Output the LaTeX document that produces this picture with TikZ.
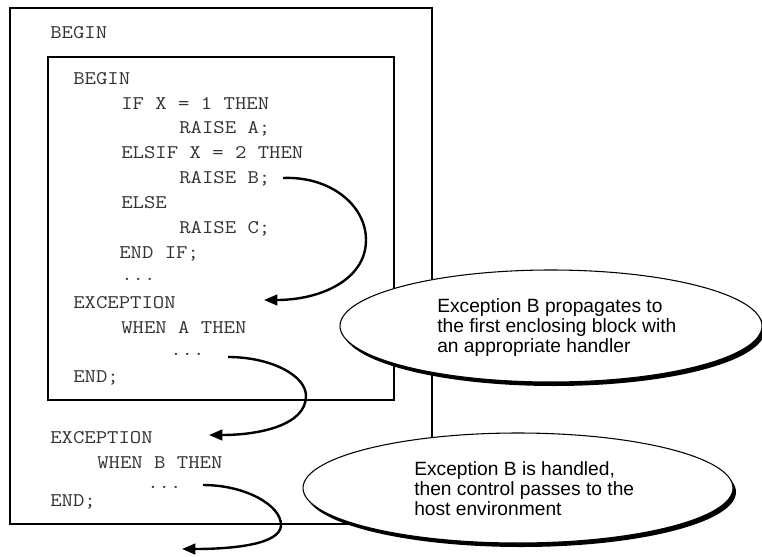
\documentclass[tikz,border=0pt]{standalone}
\usepackage{fontspec}
\setmainfont{Liberation Sans}
\newfontfamily\codefont[FakeStretch=1.143]{Latin Modern Mono}
\usetikzlibrary{arrows.meta}
\begin{document}
\begin{tikzpicture}[x=0.75pt,y=-0.75pt,
  code/.style={anchor=base west,inner sep=0pt,font=\codefont\fontsize{14.5}{17}\selectfont,text=black!80},
  note/.style={anchor=north west,inner sep=0pt,align=left,font=\fontsize{14.4}{15}\selectfont},
  flow/.style={line width=1.8pt,-{Triangle[length=10pt,width=8pt]}},
  outerbox/.style={line width=1.4pt},
  innerbox/.style={line width=0.9pt},
  bubble/.style={draw=black,line width=0.8pt,fill=white}]
\useasboundingbox (0,0) rectangle (762,556);
\fill[white] (0,0) rectangle (762,556);
% boxes
\draw[outerbox] (10,8) rectangle (432,524);
\draw[innerbox] (48,57) rectangle (394,400);
% outer code
\node[code] (ob) at (50,38.5) {BEGIN};
% inner code
\node[code] (ib) at (73,84.5) {BEGIN};
\node[code] (if1) at (121,109.5) {IF X = 1 THEN};
\node[code] (ra) at (179,133.5) {RAISE A;};
\node[code] (elsif) at (121,158.5) {ELSIF X = 2 THEN};
\node[code] (rb) at (179,183.5) {RAISE B;};
\node[code] (else) at (121,208.5) {ELSE};
\node[code] (rc) at (179,233.5) {RAISE C;};
\node[code] (endif) at (119,258.5) {END IF;};
\node[code] (dots1) at (121,280) {...};
\node[code] (iexc) at (73,308.5) {EXCEPTION};
\node[code] (wa) at (121,333.5) {WHEN A THEN};
\node[code] (dots2) at (170,355) {...};
\node[code] (iend) at (73,382.5) {END;};
% outer exception part
\node[code] (oexc) at (50,443.5) {EXCEPTION};
\node[code] (wb) at (97,468) {WHEN B THEN};
\node[code] (dots3) at (147,488) {...};
\node[code] (oend) at (50,506) {END;};
% bubbles
\fill[black] (554,330) ellipse [x radius=211,y radius=56];
\draw[bubble] (551,326) ellipse [x radius=211,y radius=56];
\node[note] (n1) at (437,298) {Exception B propagates to\\the first enclosing block with\\an appropriate handler};
\fill[black] (521,492) ellipse [x radius=215,y radius=55];
\draw[bubble] (518,488) ellipse [x radius=215,y radius=55];
\node[note] (n2) at (414,461) {Exception B is handled,\\then control passes to the\\host environment};
% arrows
\coordinate (a1s) at (283,178);
\coordinate (a1e) at (264,300);
\coordinate (a2s) at (228,357);
\coordinate (a2e) at (209,435);
\coordinate (a3s) at (203,485);
\coordinate (a3e) at (182,549);
\draw[flow] (a1s) .. controls (330,176) and (366,205) .. (366,240) .. controls (366,280) and (320,300) .. (a1e);
\draw[flow] (a2s) .. controls (270,357) and (306,375) .. (306,396) .. controls (306,425) and (260,435) .. (a2e);
\draw[flow] (a3s) .. controls (245,485) and (281,505) .. (281,525) .. controls (281,545) and (230,549) .. (a3e);
\end{tikzpicture}
\end{document}
